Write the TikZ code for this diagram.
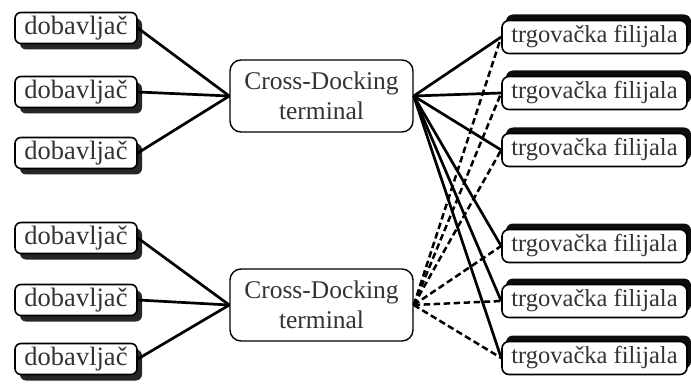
\documentclass[tikz,border=0pt]{standalone}
\usepackage{fontspec}
\setmainfont{Liberation Serif}
\usetikzlibrary{shadows}
\begin{document}
\begin{tikzpicture}[x=1pt,y=-1pt,
  supbox/.style={draw=black, line width=1.6pt, rounded corners=6pt, fill=white,
    minimum width=122pt, minimum height=31pt, inner sep=0pt,
    text=black!80, font=\fontsize{26.5}{28}\selectfont,
    drop shadow={shadow xshift=5pt, shadow yshift=-6pt, fill=black, opacity=0.85}},
  shopbox/.style={draw=black, line width=1.6pt, rounded corners=7pt, fill=white,
    minimum width=185pt, minimum height=33pt, inner sep=0pt,
    text=black!80, font=\fontsize{24.5}{28}\selectfont,
    drop shadow={shadow xshift=4pt, shadow yshift=6pt, fill=black, opacity=0.95}},
  termbox/.style={draw=black, line width=1.4pt, rounded corners=11pt, fill=white,
    minimum width=183pt, minimum height=72pt, inner sep=0pt, align=center,
    text=black!80, font=\fontsize{25.5}{30}\selectfont},
  link/.style={line width=2.7pt, black},
  dlink/.style={line width=2.5pt, black, dash pattern=on 6.5pt off 3.5pt}
]
\useasboundingbox (0,0) rectangle (691,385);
\fill[white] (0,0) rectangle (691,385);

% suppliers
\node[supbox] (s1) at (76,28) {dobavljač};
\node[supbox] (s2) at (76,92) {dobavljač};
\node[supbox] (s3) at (76,153) {dobavljač};
\node[supbox] (s4) at (76,238) {dobavljač};
\node[supbox] (s5) at (76,300) {dobavljač};
\node[supbox] (s6) at (76,359) {dobavljač};

% terminals
\node[termbox] (t1) at (321.5,96) {Cross-Docking\\terminal};
\node[termbox] (t2) at (321.5,305) {Cross-Docking\\terminal};

% shops
\node[shopbox] (r1) at (594.5,37) {trgovačka filijala};
\node[shopbox] (r2) at (594.5,93) {trgovačka filijala};
\node[shopbox] (r3) at (594.5,150) {trgovačka filijala};
\node[shopbox] (r4) at (594.5,246) {trgovačka filijala};
\node[shopbox] (r5) at (594.5,301) {trgovačka filijala};
\node[shopbox] (r6) at (594.5,358) {trgovačka filijala};

% connectors
\foreach \s in {s1,s2,s3} \draw[link] (\s.east) -- (t1.west);
\foreach \s in {s4,s5,s6} \draw[link] (\s.east) -- (t2.west);
\foreach \r in {r1,r2,r3,r4,r5,r6} \draw[link] (t1.east) -- (\r.west);
\foreach \r in {r1,r2,r3,r4,r5,r6} \draw[dlink] (t2.east) -- (\r.west);
\end{tikzpicture}
\end{document}
